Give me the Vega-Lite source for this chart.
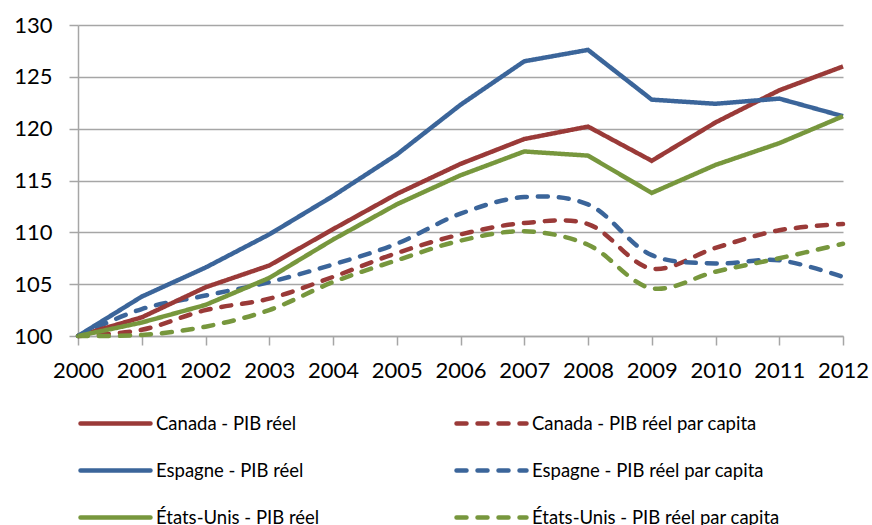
{
  "$schema": "https://vega.github.io/schema/vega-lite/v6.json",
  "width": 765,
  "height": 311,
  "autosize": {"type": "none"},
  "padding": {"left": 78, "top": 25, "right": 29, "bottom": 189},
  "background": "white",
  "data": {"values": [
    {"year": 2000, "series": "Canada - PIB réel", "kind": "solid", "value": 100},
    {"year": 2001, "series": "Canada - PIB réel", "kind": "solid", "value": 101.8},
    {"year": 2002, "series": "Canada - PIB réel", "kind": "solid", "value": 104.7},
    {"year": 2003, "series": "Canada - PIB réel", "kind": "solid", "value": 106.8},
    {"year": 2004, "series": "Canada - PIB réel", "kind": "solid", "value": 110.3},
    {"year": 2005, "series": "Canada - PIB réel", "kind": "solid", "value": 113.7},
    {"year": 2006, "series": "Canada - PIB réel", "kind": "solid", "value": 116.6},
    {"year": 2007, "series": "Canada - PIB réel", "kind": "solid", "value": 119.0},
    {"year": 2008, "series": "Canada - PIB réel", "kind": "solid", "value": 120.2},
    {"year": 2009, "series": "Canada - PIB réel", "kind": "solid", "value": 116.9},
    {"year": 2010, "series": "Canada - PIB réel", "kind": "solid", "value": 120.6},
    {"year": 2011, "series": "Canada - PIB réel", "kind": "solid", "value": 123.7},
    {"year": 2012, "series": "Canada - PIB réel", "kind": "solid", "value": 126.0},

    {"year": 2000, "series": "Canada -  PIB réel par capita", "kind": "dashed", "value": 100},
    {"year": 2001, "series": "Canada -  PIB réel par capita", "kind": "dashed", "value": 100.6},
    {"year": 2002, "series": "Canada -  PIB réel par capita", "kind": "dashed", "value": 102.5},
    {"year": 2003, "series": "Canada -  PIB réel par capita", "kind": "dashed", "value": 103.6},
    {"year": 2004, "series": "Canada -  PIB réel par capita", "kind": "dashed", "value": 105.7},
    {"year": 2005, "series": "Canada -  PIB réel par capita", "kind": "dashed", "value": 108.0},
    {"year": 2006, "series": "Canada -  PIB réel par capita", "kind": "dashed", "value": 109.8},
    {"year": 2007, "series": "Canada -  PIB réel par capita", "kind": "dashed", "value": 110.9},
    {"year": 2008, "series": "Canada -  PIB réel par capita", "kind": "dashed", "value": 110.8},
    {"year": 2009, "series": "Canada -  PIB réel par capita", "kind": "dashed", "value": 106.5},
    {"year": 2010, "series": "Canada -  PIB réel par capita", "kind": "dashed", "value": 108.5},
    {"year": 2011, "series": "Canada -  PIB réel par capita", "kind": "dashed", "value": 110.2},
    {"year": 2012, "series": "Canada -  PIB réel par capita", "kind": "dashed", "value": 110.8},

    {"year": 2000, "series": "Espagne - PIB réel", "kind": "solid", "value": 100},
    {"year": 2001, "series": "Espagne - PIB réel", "kind": "solid", "value": 103.8},
    {"year": 2002, "series": "Espagne - PIB réel", "kind": "solid", "value": 106.6},
    {"year": 2003, "series": "Espagne - PIB réel", "kind": "solid", "value": 109.8},
    {"year": 2004, "series": "Espagne - PIB réel", "kind": "solid", "value": 113.5},
    {"year": 2005, "series": "Espagne - PIB réel", "kind": "solid", "value": 117.5},
    {"year": 2006, "series": "Espagne - PIB réel", "kind": "solid", "value": 122.3},
    {"year": 2007, "series": "Espagne - PIB réel", "kind": "solid", "value": 126.5},
    {"year": 2008, "series": "Espagne - PIB réel", "kind": "solid", "value": 127.6},
    {"year": 2009, "series": "Espagne - PIB réel", "kind": "solid", "value": 122.8},
    {"year": 2010, "series": "Espagne - PIB réel", "kind": "solid", "value": 122.4},
    {"year": 2011, "series": "Espagne - PIB réel", "kind": "solid", "value": 122.9},
    {"year": 2012, "series": "Espagne - PIB réel", "kind": "solid", "value": 121.2},

    {"year": 2000, "series": "Espagne - PIB réel par capita", "kind": "dashed", "value": 100},
    {"year": 2001, "series": "Espagne - PIB réel par capita", "kind": "dashed", "value": 102.6},
    {"year": 2002, "series": "Espagne - PIB réel par capita", "kind": "dashed", "value": 103.9},
    {"year": 2003, "series": "Espagne - PIB réel par capita", "kind": "dashed", "value": 105.2},
    {"year": 2004, "series": "Espagne - PIB réel par capita", "kind": "dashed", "value": 106.9},
    {"year": 2005, "series": "Espagne - PIB réel par capita", "kind": "dashed", "value": 108.9},
    {"year": 2006, "series": "Espagne - PIB réel par capita", "kind": "dashed", "value": 111.8},
    {"year": 2007, "series": "Espagne - PIB réel par capita", "kind": "dashed", "value": 113.4},
    {"year": 2008, "series": "Espagne - PIB réel par capita", "kind": "dashed", "value": 112.7},
    {"year": 2009, "series": "Espagne - PIB réel par capita", "kind": "dashed", "value": 107.8},
    {"year": 2010, "series": "Espagne - PIB réel par capita", "kind": "dashed", "value": 107.0},
    {"year": 2011, "series": "Espagne - PIB réel par capita", "kind": "dashed", "value": 107.3},
    {"year": 2012, "series": "Espagne - PIB réel par capita", "kind": "dashed", "value": 105.7},

    {"year": 2000, "series": "États-Unis - PIB réel", "kind": "solid", "value": 100},
    {"year": 2001, "series": "États-Unis - PIB réel", "kind": "solid", "value": 101.3},
    {"year": 2002, "series": "États-Unis - PIB réel", "kind": "solid", "value": 103.0},
    {"year": 2003, "series": "États-Unis - PIB réel", "kind": "solid", "value": 105.6},
    {"year": 2004, "series": "États-Unis - PIB réel", "kind": "solid", "value": 109.3},
    {"year": 2005, "series": "États-Unis - PIB réel", "kind": "solid", "value": 112.7},
    {"year": 2006, "series": "États-Unis - PIB réel", "kind": "solid", "value": 115.5},
    {"year": 2007, "series": "États-Unis - PIB réel", "kind": "solid", "value": 117.8},
    {"year": 2008, "series": "États-Unis - PIB réel", "kind": "solid", "value": 117.4},
    {"year": 2009, "series": "États-Unis - PIB réel", "kind": "solid", "value": 113.8},
    {"year": 2010, "series": "États-Unis - PIB réel", "kind": "solid", "value": 116.5},
    {"year": 2011, "series": "États-Unis - PIB réel", "kind": "solid", "value": 118.6},
    {"year": 2012, "series": "États-Unis - PIB réel", "kind": "solid", "value": 121.2},

    {"year": 2000, "series": "États-Unis - PIB réel par capita", "kind": "dashed", "value": 100},
    {"year": 2001, "series": "États-Unis - PIB réel par capita", "kind": "dashed", "value": 100.1},
    {"year": 2002, "series": "États-Unis - PIB réel par capita", "kind": "dashed", "value": 100.9},
    {"year": 2003, "series": "États-Unis - PIB réel par capita", "kind": "dashed", "value": 102.5},
    {"year": 2004, "series": "États-Unis - PIB réel par capita", "kind": "dashed", "value": 105.2},
    {"year": 2005, "series": "États-Unis - PIB réel par capita", "kind": "dashed", "value": 107.3},
    {"year": 2006, "series": "États-Unis - PIB réel par capita", "kind": "dashed", "value": 109.2},
    {"year": 2007, "series": "États-Unis - PIB réel par capita", "kind": "dashed", "value": 110.1},
    {"year": 2008, "series": "États-Unis - PIB réel par capita", "kind": "dashed", "value": 108.8},
    {"year": 2009, "series": "États-Unis - PIB réel par capita", "kind": "dashed", "value": 104.6},
    {"year": 2010, "series": "États-Unis - PIB réel par capita", "kind": "dashed", "value": 106.2},
    {"year": 2011, "series": "États-Unis - PIB réel par capita", "kind": "dashed", "value": 107.5},
    {"year": 2012, "series": "États-Unis - PIB réel par capita", "kind": "dashed", "value": 108.9}
  ]},
  "encoding": {
    "x": {
      "field": "year", "type": "quantitative",
      "scale": {"domain": [2000, 2012], "nice": false, "zero": false},
      "axis": {
        "title": null, "values": [2000, 2001, 2002, 2003, 2004, 2005, 2006, 2007, 2008, 2009, 2010, 2011, 2012],
        "format": "d", "grid": false, "labelFlush": false, "labelOverlap": false
      }
    },
    "y": {
      "field": "value", "type": "quantitative",
      "scale": {"domain": [100, 130], "nice": false, "zero": false},
      "axis": {"title": null, "values": [100, 105, 110, 115, 120, 125, 130], "grid": true, "labelPadding": 17}
    },
    "color": {
      "field": "series", "type": "nominal",
      "scale": {
        "domain": ["Canada - PIB réel", "Canada -  PIB réel par capita", "Espagne - PIB réel", "Espagne - PIB réel par capita", "États-Unis - PIB réel", "États-Unis - PIB réel par capita"],
        "range": ["#9A3A38", "#9A3A38", "#3B659A", "#3B659A", "#77973D", "#77973D"]
      },
      "legend": {
        "orient": "none", "legendX": 0, "legendY": 361, "columns": 2, "direction": "horizontal", "title": null,
        "encode": {"symbols": {"update": {"strokeCap": {"value": "round"}}}}
      }
    },
    "strokeDash": {
      "field": "series", "type": "nominal",
      "scale": {
        "domain": ["Canada - PIB réel", "Canada -  PIB réel par capita", "Espagne - PIB réel", "Espagne - PIB réel par capita", "États-Unis - PIB réel", "États-Unis - PIB réel par capita"],
        "range": [[1, 0], [10, 11], [1, 0], [10, 11], [1, 0], [10, 11]]
      },
      "legend": {
        "orient": "none", "legendX": 0, "legendY": 361, "columns": 2, "direction": "horizontal", "title": null,
        "encode": {"symbols": {"update": {"strokeCap": {"value": "round"}}}}
      }
    }
  },
  "layer": [
    {
      "transform": [{"filter": "datum.kind === 'dashed'"}],
      "mark": {"type": "line", "strokeWidth": 4.5, "interpolate": "catmull-rom", "strokeCap": "round"}
    },
    {
      "transform": [{"filter": "datum.kind === 'solid'"}],
      "mark": {"type": "line", "strokeWidth": 4.5, "interpolate": "linear", "strokeCap": "butt", "strokeJoin": "miter"}
    }
  ],
  "config": {
    "view": {"stroke": null},
    "axis": {
      "labelFont": "Lato", "labelFontSize": 22, "labelColor": "#000000",
      "domainColor": "#A6A6A6", "domainWidth": 1.5,
      "tickColor": "#A6A6A6", "tickWidth": 1.5, "tickSize": 9,
      "gridColor": "#A6A6A6", "gridWidth": 1.5
    },
    "axisX": {"labelPadding": 15},
    "legend": {
      "symbolType": "stroke", "symbolSize": 4900, "symbolStrokeWidth": 4.5,
      "labelFont": "Lato", "labelFontSize": 18.5, "labelColor": "#000000",
      "labelOffset": 3, "columnPadding": 127, "rowPadding": -34, "labelLimit": 400
    }
  }
}
